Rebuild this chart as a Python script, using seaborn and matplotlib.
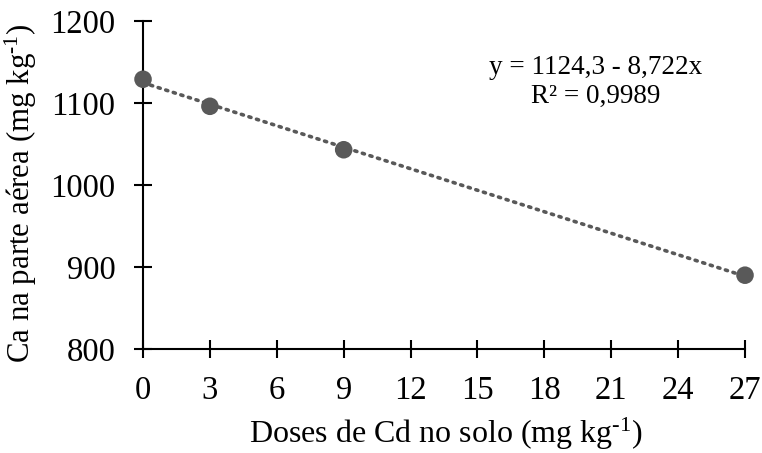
import matplotlib
matplotlib.use("Agg")
import matplotlib.pyplot as plt
import seaborn as sns
import pandas as pd

doses = [0, 3, 9, 27]
ca = [1129, 1096, 1043, 890]
x_ticks = [0, 3, 6, 9, 12, 15, 18, 21, 24, 27]
y_ticks = [800, 900, 1000, 1100, 1200]
equation = "y = 1124,3 - 8,722x\nR² = 0,9989"

sns.set_theme(style="white")
plt.rcParams['font.family'] = ['Liberation Serif', 'DejaVu Serif']
plt.rcParams['mathtext.fontset'] = 'custom'
plt.rcParams['mathtext.rm'] = 'Liberation Serif'
plt.rcParams['mathtext.it'] = 'Liberation Serif'

df = pd.DataFrame({"dose": doses, "ca": ca})

fig = plt.figure(figsize=(7.62, 4.53), dpi=100)
ax = fig.add_axes([0.1877, 0.2296, 0.79, 0.724])

sns.regplot(data=df, x="dose", y="ca", ax=ax, ci=None, truncate=True,
            scatter=False,
            line_kws=dict(color="#595959", linestyle=(0, (0.6, 1.6)), linewidth=2.6,
                          dash_capstyle="round"))
sns.scatterplot(data=df, x="dose", y="ca", ax=ax, color="#595959", s=160,
                edgecolor="none", zorder=5, clip_on=False)

ax.set_xlim(0, 27)
ax.set_ylim(800, 1200)
ax.set_xticks(x_ticks)
ax.set_yticks(y_ticks)
for s in ["top", "right"]:
    ax.spines[s].set_visible(False)
for s in ["left", "bottom"]:
    ax.spines[s].set_color("black")
    ax.spines[s].set_linewidth(1.5)
ax.tick_params(axis="both", direction="inout", length=13.5, width=1.5, color="black",
               labelsize=23.5, labelcolor="black", bottom=True, left=True)
ax.tick_params(axis="y", pad=13)
ax.tick_params(axis="x", pad=12)
ax.set_xlabel("")
ax.set_ylabel("")

sup = r"$^{\mathregular{‐1}}$"
fig.text(446 / 762, 1 - 443 / 453, "Doses de Cd no solo (mg kg" + sup + ")",
         fontsize=23, color="black", ha="center", va="baseline")
fig.text(21 / 762, 1 - 193 / 453, "Ca na parte aérea (mg kg" + sup + ")",
         fontsize=22.2, color="black", ha="center", va="center", rotation=90)

ax.text(0.752, 0.814, equation, transform=ax.transAxes, ha="center", va="center",
        fontsize=19.5, color="black", linespacing=1.2)

fig.savefig("out.png", dpi=100)
